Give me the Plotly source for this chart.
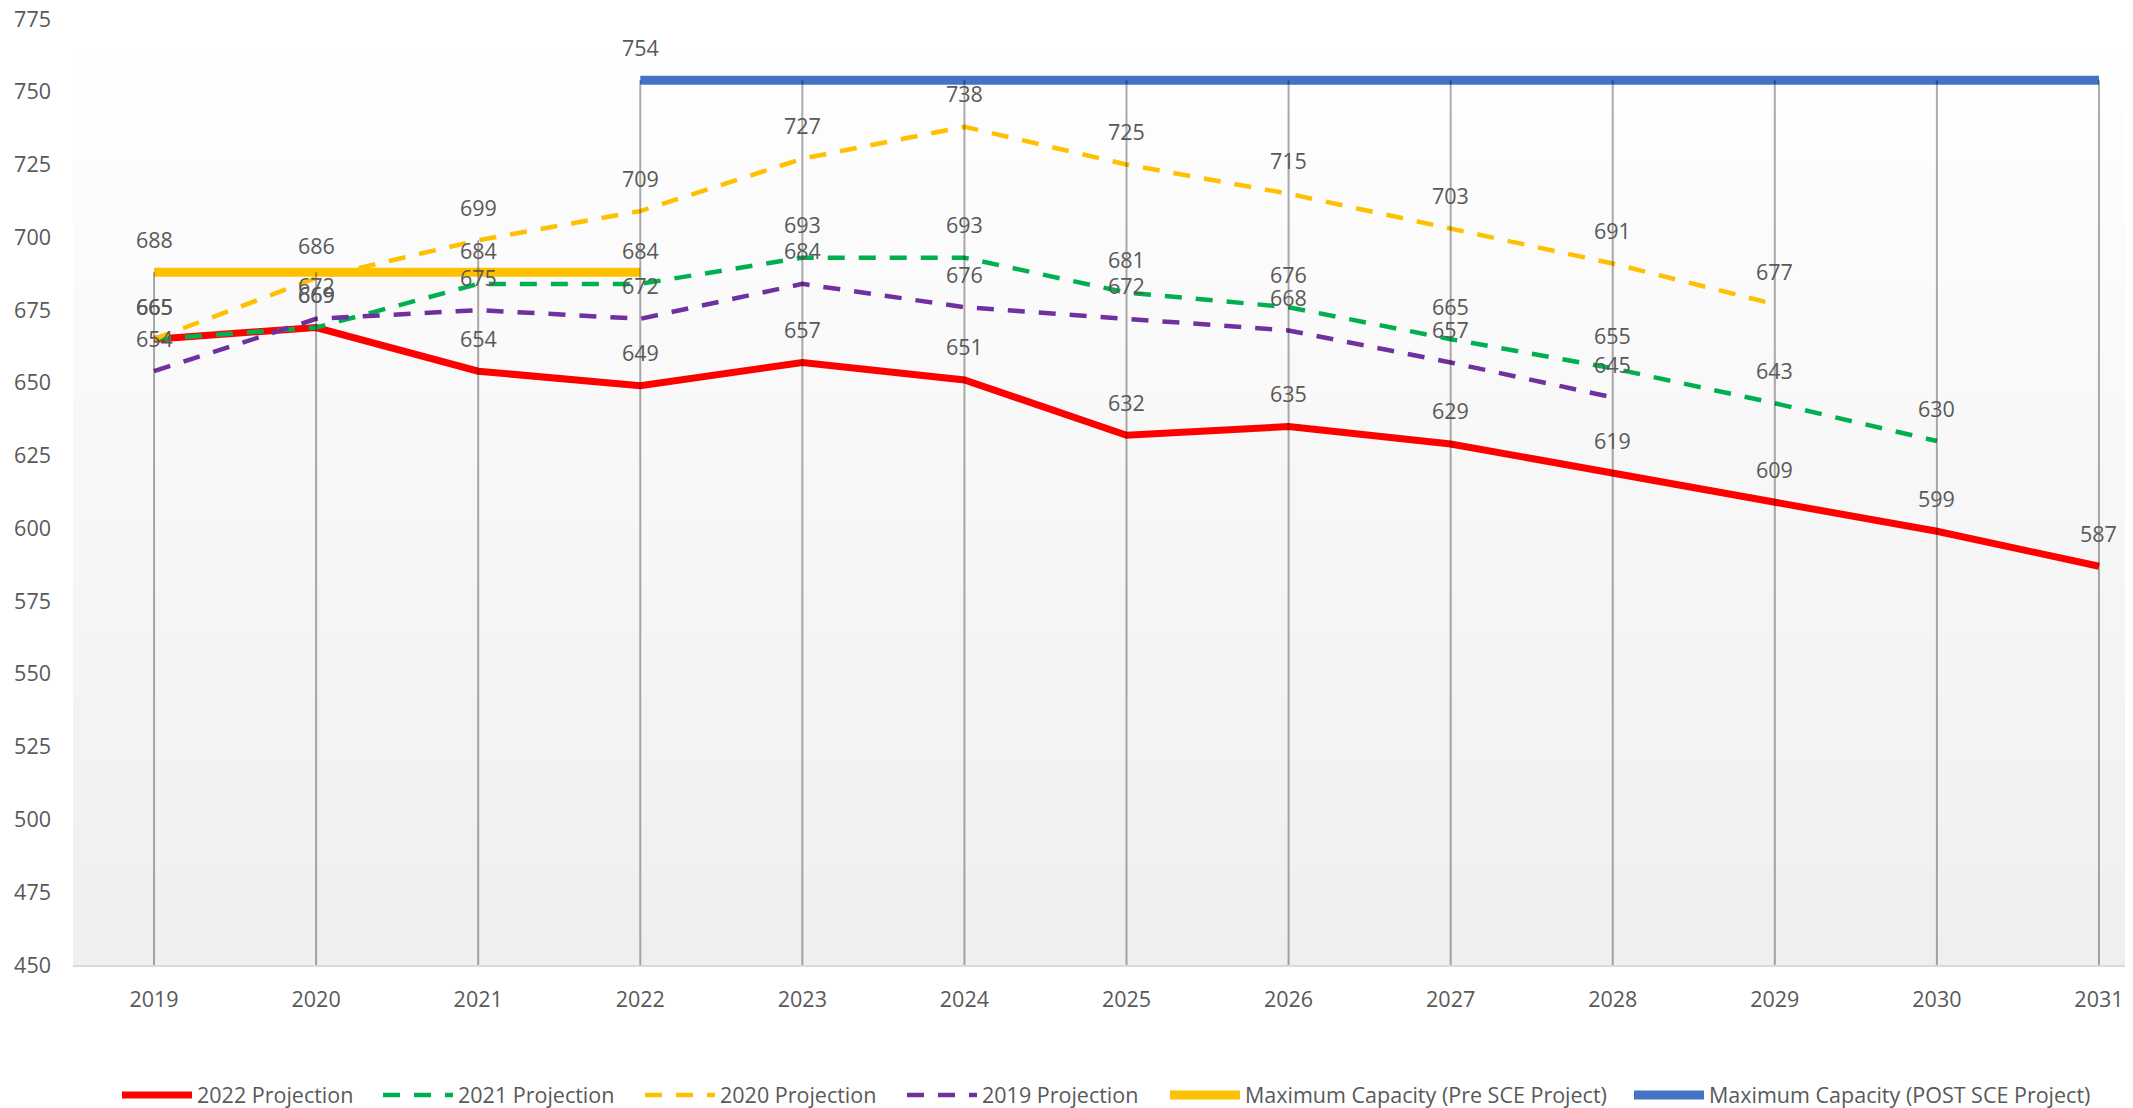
import plotly.graph_objects as go

# ---------------- data ----------------
years = [2019, 2020, 2021, 2022, 2023, 2024, 2025, 2026, 2027, 2028, 2029, 2030, 2031]
year_labels = ["2019", "2020", "2021", "2022", "2023", "2024", "2025", "2026", "2027", "2028", "2029", "2030", "2031"]

proj_2022 = [665, 669, 654, 649, 657, 651, 632, 635, 629, 619, 609, 599, 587]
proj_2021 = [665, 669, 684, 684, 693, 693, 681, 676, 665, 655, 643, 630]
proj_2020 = [665, 686, 699, 709, 727, 738, 725, 715, 703, 691, 677]
proj_2019 = [654, 672, 675, 672, 684, 676, 672, 668, 657, 645]

cap_pre_years = [2019, 2020, 2021, 2022]
cap_pre = [688, 688, 688, 688]
cap_post_years = [2022, 2023, 2024, 2025, 2026, 2027, 2028, 2029, 2030, 2031]
cap_post = [754, 754, 754, 754, 754, 754, 754, 754, 754, 754]

y_ticks = [450, 475, 500, 525, 550, 575, 600, 625, 650, 675, 700, 725, 750, 775]

# ---------------- styling ----------------
FONT = "Open Sans, DejaVu Sans, sans-serif"
FS = 21.5
LABEL_COLOR = "#595959"
OFF = 8  # default page body margin
W, H = 2133 - OFF, 1108 - OFF
M_L, M_R, M_T, M_B = 73 - OFF, 0, 19 - OFF, 1108 - 965
PLOT_W = W - M_L - M_R
PLOT_H = H - M_T - M_B

series = [
    dict(name="2022 Projection", x=years[:len(proj_2022)], y=proj_2022, color="#FF0000", width=7, dash="solid", all_labels=True, text_x=197),
    dict(name="2021 Projection", x=years[:len(proj_2021)], y=proj_2021, color="#00B050", width=4.5, dash="17px,14px", all_labels=True, text_x=458),
    dict(name="2020 Projection", x=years[:len(proj_2020)], y=proj_2020, color="#FFC000", width=4.5, dash="17px,14px", all_labels=True, text_x=720),
    dict(name="2019 Projection", x=years[:len(proj_2019)], y=proj_2019, color="#7030A0", width=4.5, dash="17px,14px", all_labels=True, text_x=982),
    dict(name="Maximum Capacity (Pre SCE Project)", x=cap_pre_years, y=cap_pre, color="#FFC000", width=9, dash="solid", all_labels=False, text_x=1245),
    dict(name="Maximum Capacity (POST SCE Project)", x=cap_post_years, y=cap_post, color="#4472C4", width=9, dash="solid", all_labels=False, text_x=1709),
]

fig = go.Figure()

# drop lines (from highest value at each category down to axis)
drop_x, drop_y = [], []
for yr in years:
    vals = [s["y"][s["x"].index(yr)] for s in series if yr in s["x"]]
    drop_x += [yr, yr, None]
    drop_y += [y_ticks[0], max(vals), None]

annotations = []
for i, s in enumerate(series):
    legend_id = "legend" if i == 0 else f"legend{i + 1}"
    fig.add_trace(go.Scatter(
        x=s["x"], y=s["y"], mode="lines", name=s["name"],
        line=dict(color=s["color"], width=s["width"], dash=s["dash"]),
        legend=legend_id, hoverinfo="x+y+name",
    ))
    pts = list(zip(s["x"], s["y"])) if s["all_labels"] else [(s["x"][0], s["y"][0])]
    for xv, yv in pts:
        annotations.append(dict(
            x=xv, y=yv, text=str(yv), showarrow=False, yshift=33,
            font=dict(family=FONT, size=FS, color=LABEL_COLOR),
            xanchor="center", yanchor="middle",
        ))

fig.add_trace(go.Scatter(
    x=drop_x, y=drop_y, mode="lines", showlegend=False, hoverinfo="skip",
    line=dict(color="rgba(0,0,0,0.33)", width=2),
))

# gradient plot background
shapes = []
N = 60
top = (255, 255, 255)
bot = (239, 239, 239)
for k in range(N):
    t = (k + 0.5) / N
    c = tuple(round(bot[j] + (top[j] - bot[j]) * t) for j in range(3))
    shapes.append(dict(
        type="rect", xref="paper", yref="paper", x0=0, x1=1,
        y0=k / N, y1=(k + 1) / N + 0.002, fillcolor=f"rgb{c}",
        line=dict(width=0), layer="below",
    ))

layout_legends = {}
legend_y = (M_T + PLOT_H - (1095 - OFF)) / PLOT_H
for i, s in enumerate(series):
    key = "legend" if i == 0 else f"legend{i + 1}"
    layout_legends[key] = dict(
        orientation="h", x=(s["text_x"] - OFF - 80 - M_L) / PLOT_W, xanchor="left",
        y=legend_y, yanchor="middle", itemwidth=70,
        bgcolor="rgba(0,0,0,0)", font=dict(family=FONT, size=FS, color=LABEL_COLOR),
    )

fig.update_layout(
    width=W, height=H,
    margin=dict(l=M_L, r=M_R, t=M_T, b=M_B, pad=0, autoexpand=False),
    paper_bgcolor="white", plot_bgcolor="rgba(0,0,0,0)",
    font=dict(family=FONT, size=FS, color=LABEL_COLOR),
    shapes=shapes, annotations=annotations,
    xaxis=dict(
        range=[2018.5, 2031.21], tickvals=years, ticktext=year_labels, automargin=False,
        showgrid=False, zeroline=False, showline=True, linecolor="#d9d9d9", linewidth=2,
        ticks="", ticklabelstandoff=14, ticklabeloverflow="allow",
        tickfont=dict(family=FONT, size=FS, color=LABEL_COLOR),
    ),
    yaxis=dict(
        range=[450, 775], tickvals=y_ticks, ticktext=[str(v) for v in y_ticks], automargin=False,
        showgrid=False, zeroline=False, showline=False, ticks="",
        ticklabelstandoff=21, ticklabeloverflow="allow",
        tickfont=dict(family=FONT, size=FS, color=LABEL_COLOR),
    ),
    **layout_legends,
)

fig.write_html("out.html")
